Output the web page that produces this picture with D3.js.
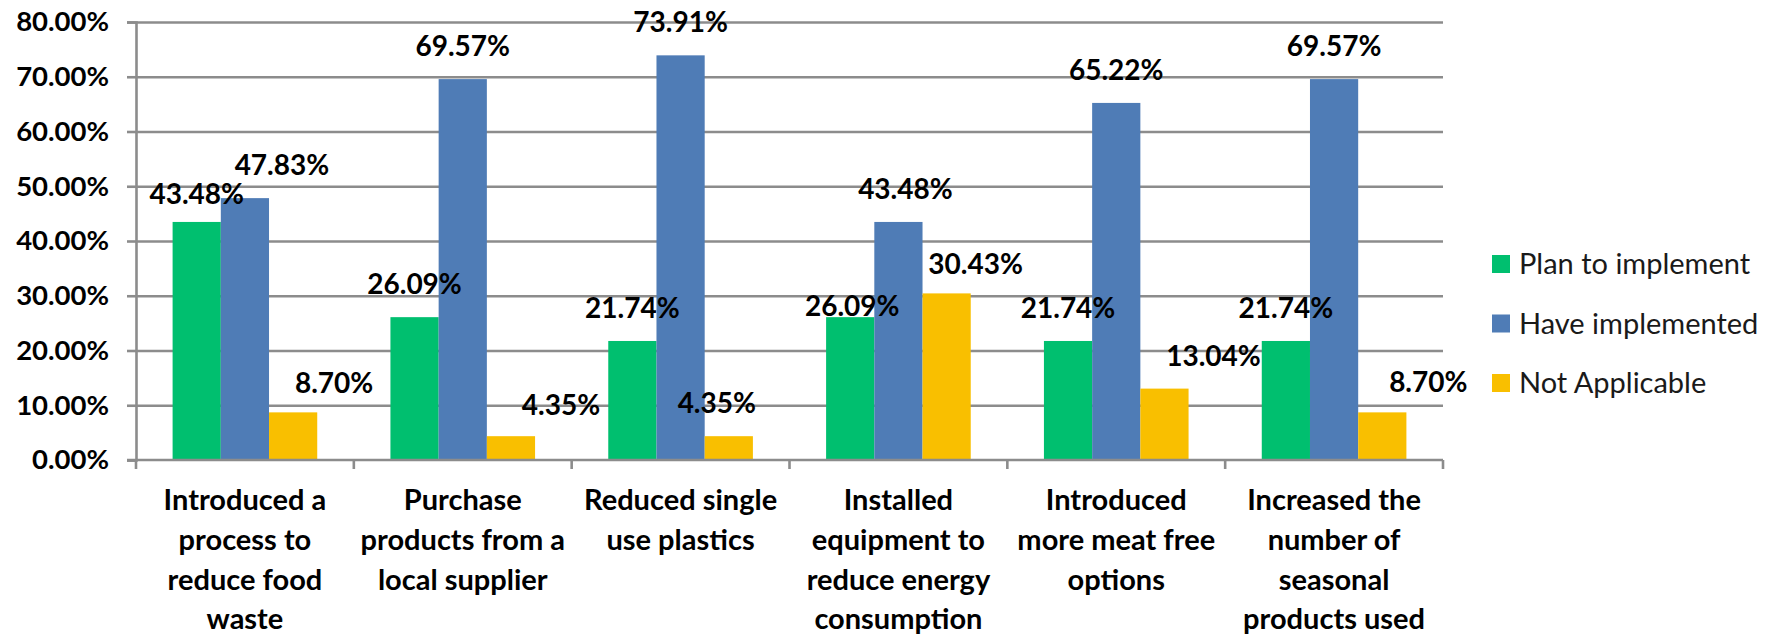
<!DOCTYPE html>
<html>
<head>
<meta charset="utf-8">
<script src="https://cdn.jsdelivr.net/npm/d3@7"></script>
<style>
  body { margin: 0; background: #ffffff; }
  svg { display: block; }
  text { font-family: Lato, "Open Sans", sans-serif; }
</style>
</head>
<body>
<svg id="chart" width="1777" height="638"></svg>
<script>
// ---------------- data ----------------
const categories = [
  ["Introduced a", "process to", "reduce food", "waste"],
  ["Purchase", "products from a", "local supplier"],
  ["Reduced single", "use plastics"],
  ["Installed", "equipment to", "reduce energy", "consumption"],
  ["Introduced", "more meat free", "options"],
  ["Increased the", "number of", "seasonal", "products used"]
];
const seriesNames = ["Plan to implement", "Have implemented", "Not Applicable"];
const planToImplement = [43.48, 26.09, 21.74, 26.09, 21.74, 21.74];
const haveImplemented = [47.83, 69.57, 73.91, 43.48, 65.22, 69.57];
const notApplicable   = [8.70, 4.35, 4.35, 30.43, 13.04, 8.70];
const yTicks = [0, 10, 20, 30, 40, 50, 60, 70, 80];

// ---------------- styling / layout ----------------
const seriesValues = [planToImplement, haveImplemented, notApplicable];
const colors = ["#00BF6F", "#4F7CB6", "#F9BF00"];
const gridColor = "#8C8C8C";
// manual data-label nudges (pixels) as placed in the original chart: "series,category": [dx, dy]
const labelNudge = {
  "0,0": [0, 5], "1,0": [37, 0], "2,0": [41, 4],
  "2,1": [50, 2],
  "2,2": [-12, 0],
  "0,3": [2, 22], "1,3": [7, 0], "2,3": [29, 4],
  "2,4": [49, 0],
  "2,5": [46, 3]
};

const plot = { left: 136, right: 1443, top: 22, bottom: 460 };
const svg = d3.select("#chart");

const x0 = d3.scaleBand()
  .domain(d3.range(categories.length))
  .range([plot.left, plot.right])
  .paddingInner(0).paddingOuter(0);
const groupPad = 36.6;
const x1 = d3.scaleBand()
  .domain(d3.range(seriesNames.length))
  .range([groupPad, x0.bandwidth() - groupPad])
  .paddingInner(0).paddingOuter(0);
const y = d3.scaleLinear().domain([0, 80]).range([plot.bottom, plot.top]);

// gridlines
svg.append("g")
  .attr("transform", `translate(${plot.left},0)`)
  .call(d3.axisLeft(y).tickValues(yTicks.filter(t => t > 0)).tickSize(-(plot.right - plot.left)).tickFormat(""))
  .call(g => g.select(".domain").remove())
  .call(g => g.selectAll("line").attr("stroke", gridColor).attr("stroke-width", 2.6));

// y axis with outside ticks and labels
svg.append("g")
  .attr("transform", `translate(${plot.left},0)`)
  .call(d3.axisLeft(y).tickValues(yTicks).tickSize(9).tickPadding(18)
        .tickFormat(d => d3.format(".2f")(d) + "%"))
  .call(g => g.select(".domain").attr("stroke", gridColor).attr("stroke-width", 2.6))
  .call(g => g.selectAll("line").attr("stroke", gridColor).attr("stroke-width", 2.6))
  .call(g => g.selectAll("text")
        .attr("fill", "#000")
        .style("font-size", "27.5px")
        .style("font-weight", "700")
        .style("font-family", "Lato, sans-serif"));

// bars
const groups = svg.append("g").selectAll("g")
  .data(categories.map((c, i) => i))
  .join("g")
  .attr("transform", i => `translate(${x0(i)},0)`);

groups.selectAll("rect")
  .data(i => seriesValues.map((vals, s) => ({ s, c: i, v: vals[i] })))
  .join("rect")
  .attr("x", d => x1(d.s))
  .attr("width", x1.bandwidth())
  .attr("y", d => y(d.v))
  .attr("height", d => y(0) - y(d.v))
  .attr("fill", d => colors[d.s]);

// x axis line and boundary ticks
const xAxisG = svg.append("g");
xAxisG.append("line")
  .attr("x1", plot.left - 9).attr("x2", plot.right)
  .attr("y1", y(0)).attr("y2", y(0))
  .attr("stroke", gridColor).attr("stroke-width", 2.6);
const boundaries = d3.range(categories.length).map(i => x0(i)).concat([x0.range()[1]]);
xAxisG.selectAll("line.tick")
  .data(boundaries)
  .join("line")
  .attr("class", "tick")
  .attr("x1", d => d).attr("x2", d => d)
  .attr("y1", y(0)).attr("y2", y(0) + 9)
  .attr("stroke", gridColor).attr("stroke-width", 2.6);

// category labels
const catLabels = svg.append("g").selectAll("text")
  .data(categories)
  .join("text")
  .attr("text-anchor", "middle")
  .attr("x", (d, i) => x0(i) + x0.bandwidth() / 2)
  .attr("y", 510)
  .attr("fill", "#000")
  .style("font-size", "29px")
  .style("font-weight", "700");
catLabels.selectAll("tspan")
  .data(d => d)
  .join("tspan")
  .attr("x", function () { return this.parentNode.getAttribute("x"); })
  .attr("dy", (d, j) => j === 0 ? 0 : 39.8)
  .text(d => d);

// data labels
const labelData = [];
seriesValues.forEach((vals, s) => vals.forEach((v, c) => labelData.push({ s, c, v })));
svg.append("g").selectAll("text")
  .data(labelData)
  .join("text")
  .attr("text-anchor", "middle")
  .attr("x", d => x0(d.c) + x1(d.s) + x1.bandwidth() / 2 + (labelNudge[d.s + "," + d.c] || [0, 0])[0])
  .attr("y", d => y(d.v) - 33 + (labelNudge[d.s + "," + d.c] || [0, 0])[1])
  .attr("dy", "0.36em")
  .attr("fill", "#000")
  .style("font-size", "28px")
  .style("font-weight", "700")
  .text(d => d3.format(".2f")(d.v) + "%");

// legend
const legend = svg.append("g").selectAll("g")
  .data(seriesNames)
  .join("g")
  .attr("transform", (d, i) => `translate(1492, ${264 + i * 59.5})`);
legend.append("rect")
  .attr("x", 0).attr("y", -9).attr("width", 18).attr("height", 18)
  .attr("fill", (d, i) => colors[i]);
legend.append("text")
  .attr("x", 27).attr("y", 0).attr("dy", "0.36em")
  .attr("fill", "#1a1a1a")
  .style("font-size", "29px")
  .text(d => d);
</script>
</body>
</html>
